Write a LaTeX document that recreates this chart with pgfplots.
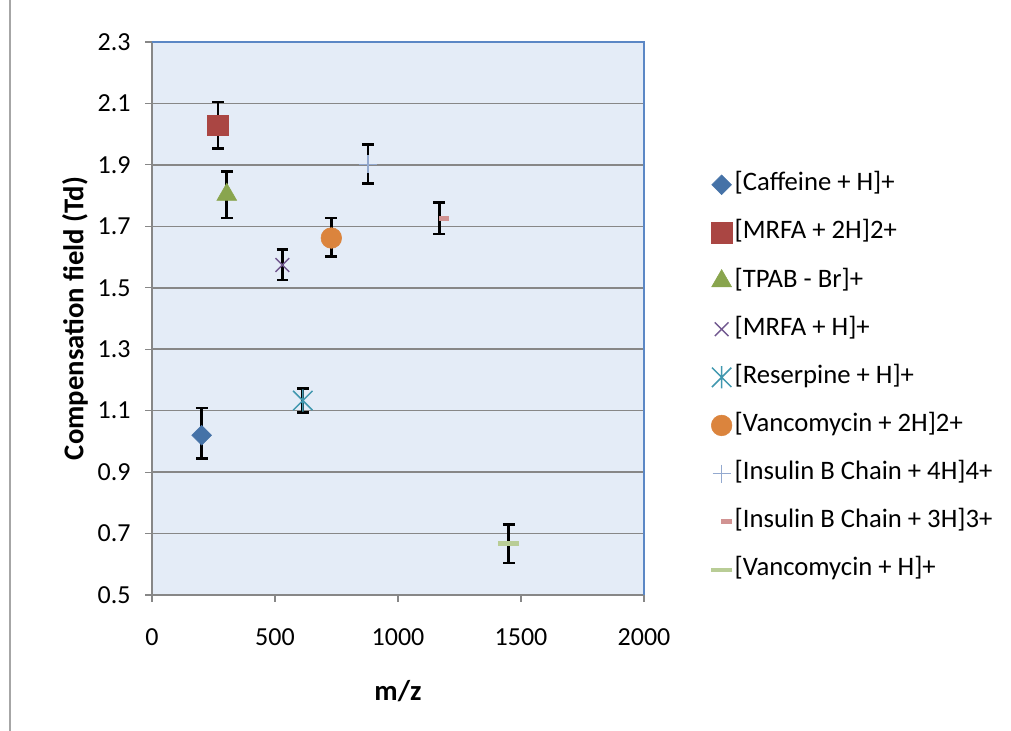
\documentclass[border=0pt]{standalone}
\usepackage{pgfplots}
\pgfplotsset{compat=1.18}
\usepackage{fontspec}
\setmainfont{Carlito}
\definecolor{c1}{HTML}{4572A7}
\definecolor{c2}{HTML}{AA4643}
\definecolor{c3}{HTML}{89A54E}
\definecolor{c4}{HTML}{71588F}
\definecolor{c5}{HTML}{4198AF}
\definecolor{c6}{HTML}{DB843D}
\definecolor{c7}{HTML}{93A9CF}
\definecolor{c8}{HTML}{D19392}
\definecolor{c9}{HTML}{B9CD96}
\definecolor{bgc}{HTML}{E4ECF7}
\definecolor{gridc}{HTML}{878787}
\definecolor{bordc}{HTML}{5B87C5}
\pgfdeclareplotmark{xstar}{%
  \pgfpathmoveto{\pgfpoint{-\pgfplotmarksize}{-\pgfplotmarksize}}%
  \pgfpathlineto{\pgfpoint{\pgfplotmarksize}{\pgfplotmarksize}}%
  \pgfpathmoveto{\pgfpoint{-\pgfplotmarksize}{\pgfplotmarksize}}%
  \pgfpathlineto{\pgfpoint{\pgfplotmarksize}{-\pgfplotmarksize}}%
  \pgfpathmoveto{\pgfpoint{0pt}{-1.15\pgfplotmarksize}}%
  \pgfpathlineto{\pgfpoint{0pt}{1.15\pgfplotmarksize}}%
  \pgfusepathqstroke}
\begin{document}
\begin{tikzpicture}[x=1pt,y=1pt]
\path[use as bounding box] (0,0) rectangle (758.25,548.25);
\draw[gray!70, line width=0.8pt] (7.5,0) -- (7.5,548.25);
\begin{axis}[
  at={(114pt,102pt)}, anchor=south west,
  scale only axis, width=369pt, height=414.75pt,
  xmin=0, xmax=2000, ymin=0.5, ymax=2.3,
  xtick={0,500,1000,1500,2000},
  ytick={0.5,0.7,0.9,1.1,1.3,1.5,1.7,1.9,2.1,2.3},
  yticklabel style={/pgf/number format/fixed, /pgf/number format/precision=1, /pgf/number format/fixed zerofill, xshift=-7.5pt},
  xticklabel style={/pgf/number format/set thousands separator={}, yshift=-17pt},
  /pgf/number format/assume math mode=true,
  tick label style={font=\fontsize{19.5}{22}\selectfont, black},
  axis background/.style={fill=bgc},
  axis lines*=left,
  axis line style={gridc, line width=0.9pt},
  tick align=outside, major tick length=5pt,
  tick style={gridc, line width=0.9pt},
  ymajorgrids, major grid style={gridc, line width=1.1pt},
  xlabel={\textbf{m/z}}, ylabel={\textbf{Compensation field (Td)}},
  label style={font=\fontsize{21.5}{24}\selectfont},
  xlabel style={at={(axis description cs:0.5,-0.174)}, anchor=center},
  ylabel style={at={(axis description cs:-0.1565,0.5)}, anchor=center},
  clip=false,
  after end axis/.code={\draw[bordc, line width=1.1pt] (rel axis cs:0,1) -- (rel axis cs:1,1) -- (rel axis cs:1,0);},
  legend cell align=left,
  legend style={at={(axis description cs:1.128,0.770)}, anchor=north west, draw=none, fill=none,
    font=\fontsize{20}{22}\selectfont,
    nodes={inner sep=0pt, text height=14pt, text depth=5pt},
    row sep=17.1pt, column sep=2pt},
  legend image code/.code={\path[draw=none, fill=none] (0pt,-5pt) rectangle (14pt,5pt); \draw[#1] plot coordinates {(7pt,0pt)};},
  error bars/y dir=both, error bars/y explicit,
  error bars/error bar style={black, line width=2pt},
  error bars/error mark options={black, line width=2pt, mark size=4.4pt, rotate=90},
]
\addplot[only marks, mark=diamond*, mark options={mark size=7.4pt, xscale=1.33, draw=c1, fill=c1}]
  table[y error plus=ep, y error minus=em] {x y ep em
202 1.020 0.089 0.076
};
\addlegendentry{[Caffeine + H]+}
\addplot[only marks, mark=square*, mark options={mark size=7.75pt, draw=c2, fill=c2}]
  table[y error plus=ep, y error minus=em] {x y ep em
268 2.029 0.076 0.076
};
\addlegendentry{[MRFA + 2H]2+}
\addplot[only marks, mark=triangle*, mark options={mark size=8.6pt, draw=c3, fill=c3}]
  table[y error plus=ep, y error minus=em] {x y ep em
304 1.803 0.076 0.076
};
\addlegendentry{[TPAB - Br]+}
\addplot[only marks, mark=x, mark options={mark size=7.25pt, draw=c4, line width=1.1pt}]
  table[y error plus=ep, y error minus=em] {x y ep em
530 1.574 0.051 0.049
};
\addlegendentry{[MRFA + H]+}
\addplot[only marks, mark=xstar, mark options={mark size=7.25pt, draw=c5, line width=1.1pt}]
  table[y error plus=ep, y error minus=em] {x y ep em
613 1.133 0.040 0.038
};
\addlegendentry{[Reserpine + H]+}
\addplot[only marks, mark=*, mark options={mark size=7.75pt, draw=c6, fill=c6}]
  table[y error plus=ep, y error minus=em] {x y ep em
729 1.662 0.065 0.061
};
\addlegendentry{[Vancomycin + 2H]2+}
\addplot[only marks, mark=+, mark options={mark size=6.75pt, draw=c7, line width=1.1pt}]
  table[y error plus=ep, y error minus=em] {x y ep em
878 1.902 0.065 0.062
};
\addlegendentry{[Insulin B Chain + 4H]4+}
\addplot[only marks, mark=-, mark options={mark size=4pt, draw=c8, line width=3.6pt, xshift=3.5pt}]
  table[y error plus=ep, y error minus=em] {x y ep em
1168 1.725 0.053 0.050
};
\addlegendentry{[Insulin B Chain + 3H]3+}
\addplot[only marks, mark=-, mark options={mark size=7.8pt, draw=c9, line width=3.4pt}]
  table[y error plus=ep, y error minus=em] {x y ep em
1450 0.667 0.063 0.063
};
\addlegendentry{[Vancomycin + H]+}
\end{axis}
\end{tikzpicture}
\end{document}
